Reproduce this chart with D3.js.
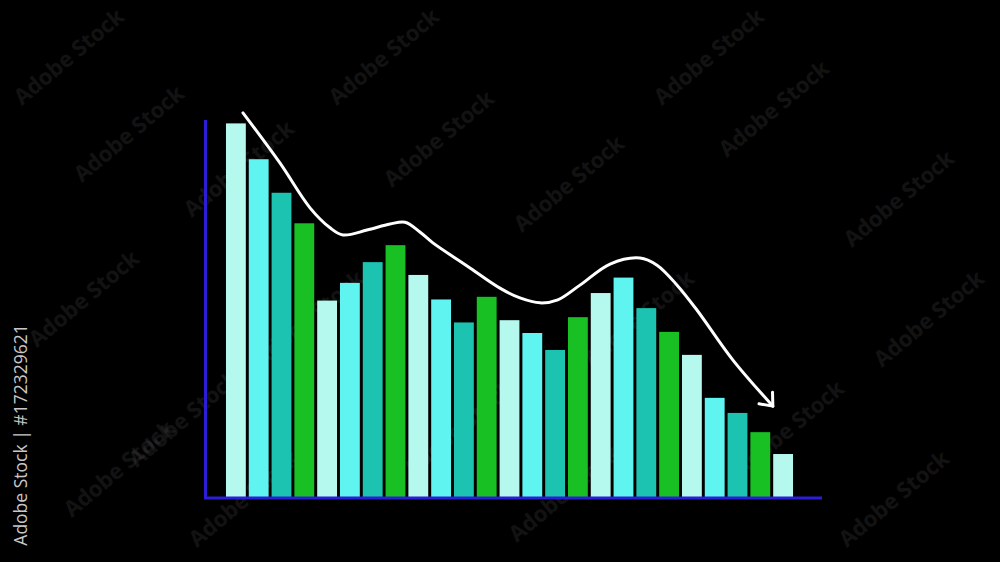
<!DOCTYPE html>
<html>
<head>
<meta charset="utf-8">
<script src="https://cdn.jsdelivr.net/npm/d3@7"></script>
<style>
  html, body { margin: 0; padding: 0; background: #000; }
  svg { display: block; }
</style>
</head>
<body>
<svg id="chart" width="1000" height="562"></svg>
<script>
// ---- data ----
const categories = d3.range(1, 26).map(String);
const values = [99.1, 89.6, 80.7, 72.6, 52.1, 56.8, 62.3, 66.8, 58.9, 52.4,
                46.3, 53.1, 46.9, 43.5, 39.0, 47.7, 54.1, 58.2, 50.1, 43.8,
                37.7, 26.3, 22.3, 17.2, 11.4];
const barColors = ["#b4f8ee", "#5ff4ef", "#1cc3b1", "#18c024"];
// trend line: position in bar-index units, value in data units
const trendIdx = [0.31, 1.93, 3.25, 4.13, 4.70, 5.75, 6.76, 7.42, 8.07, 8.64, 10.14, 11.58,
                  12.46, 13.34, 14.12, 15.09, 16.41, 17.72, 18.47, 19.35, 20.22, 21.80, 23.55];
const trendVal = [101.9, 88.6, 76.7, 71.4, 69.5, 70.8, 72.4, 72.9, 70.3, 67.4, 61.3, 55.4,
                  52.8, 51.5, 52.3, 56.2, 61.8, 63.4, 61.5, 56.2, 49.6, 36.3, 24.1];
const watermarkText = "Adobe Stock";
const creditText = "Adobe Stock | #172329621";

// ---- layout ----
const svg = d3.select("#chart");
svg.append("rect").attr("width", 1000).attr("height", 562).attr("fill", "#000");

const x = d3.scaleBand().domain(categories).range([224.5, 794.5])
  .paddingInner(0.13).paddingOuter(0.065);
const y = d3.scaleLinear().domain([0, 100]).range([497, 120]);
const xIdx = d3.scaleLinear().domain([0, 24])
  .range([x(categories[0]) + x.bandwidth() / 2, x(categories[24]) + x.bandwidth() / 2]);

// faint diagonal watermarks
const wmPos = [[70,58],[385,58],[710,58],[130,135],[440,140],[775,110],[240,170],[570,185],[900,200],
               [85,300],[310,320],[640,320],[930,320],[185,420],[460,430],[790,430],
               [120,470],[245,500],[565,495],[895,500]];
svg.append("g").selectAll("text").data(wmPos).join("text")
  .attr("transform", d => `translate(${d[0]},${d[1]}) rotate(-40)`)
  .attr("text-anchor", "middle").attr("dominant-baseline", "middle")
  .attr("font-family", "Open Sans, sans-serif").attr("font-weight", "bold")
  .attr("font-size", 22).attr("fill", "#fff").attr("opacity", 0.07)
  .text(watermarkText);

// bars
svg.append("g").selectAll("rect").data(values).join("rect")
  .attr("x", (d, i) => x(categories[i]))
  .attr("y", d => y(d))
  .attr("width", x.bandwidth())
  .attr("height", d => y(0) - y(d))
  .attr("fill", (d, i) => barColors[i % 4]);

// axes (plain lines, no ticks)
const axisColor = "#2b1ed6";
const yAxis = d3.axisLeft(y).tickValues([]).tickSizeOuter(0);
const gy = svg.append("g").attr("transform", "translate(205.5,0)").call(yAxis);
gy.select(".domain").attr("stroke", axisColor).attr("stroke-width", 3)
  .attr("d", `M0,${y(100)}V${y(0) + 2}`);
const xAxis = d3.axisBottom(x).tickValues([]).tickSizeOuter(0);
const gx = svg.append("g").attr("transform", `translate(0,${y(0) + 1})`).call(xAxis);
gx.select(".domain").attr("stroke", axisColor).attr("stroke-width", 3)
  .attr("d", "M204,0H822");

// trend curve with arrow
const pts = trendIdx.map((t, i) => [xIdx(t), y(trendVal[i])]);
const line = d3.line().curve(d3.curveCatmullRom.alpha(0.5));
svg.append("path").attr("d", line(pts))
  .attr("fill", "none").attr("stroke", "#fff").attr("stroke-width", 3)
  .attr("stroke-linecap", "round");
const tip = pts[pts.length - 1], prev = pts[pts.length - 2];
const ang = Math.atan2(tip[1] - prev[1], tip[0] - prev[0]);
const L = 14, spread = Math.PI * 0.22;
const a1 = [tip[0] - L * Math.cos(ang - spread), tip[1] - L * Math.sin(ang - spread)];
const a2 = [tip[0] - L * Math.cos(ang + spread), tip[1] - L * Math.sin(ang + spread)];
svg.append("path").attr("d", d3.line()([a1, tip, a2]))
  .attr("fill", "none").attr("stroke", "#fff").attr("stroke-width", 3)
  .attr("stroke-linecap", "round").attr("stroke-linejoin", "round");

// vertical credit text
svg.append("text")
  .attr("transform", "translate(22,435) rotate(-90)")
  .attr("text-anchor", "middle").attr("dominant-baseline", "middle")
  .attr("font-family", "Open Sans, sans-serif").attr("font-size", 17.5)
  .attr("fill", "#c8c8c8").text(creditText);
</script>
</body>
</html>
